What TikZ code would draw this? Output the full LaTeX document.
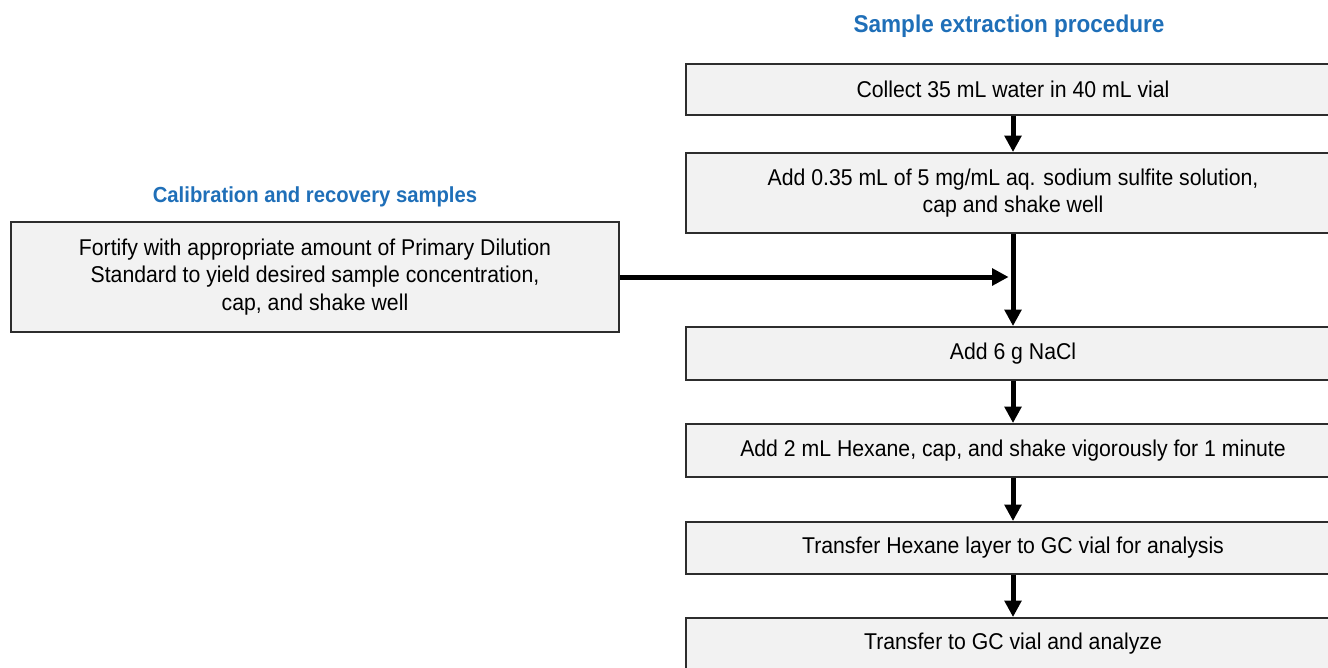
\documentclass[tikz,border=0pt]{standalone}
\usepackage{fontspec}
\setmainfont[FakeStretch=0.93]{Liberation Sans}
\usetikzlibrary{arrows.meta}
\definecolor{headblue}{RGB}{31,111,184}
\definecolor{boxfill}{RGB}{242,242,242}
\definecolor{boxline}{RGB}{45,45,45}
\tikzset{
  stepbox/.style={draw=boxline,fill=boxfill,line width=1.1pt,inner sep=0pt,
    minimum width=13.08cm,align=center,font=\fontsize{13}{15.6}\selectfont},
  head/.style={text=headblue,font=\bfseries\fontsize{13.8}{16}\selectfont},
  flow/.style={line width=2.85pt,-{Triangle[length=0.33cm,width=0.33cm]}}
}
\begin{document}
\begin{tikzpicture}[x=0.02cm,y=-0.02cm]
\useasboundingbox (0,0) rectangle (1328,667);
\node[head] (exthead) at (1009,26) {Sample extraction procedure};
\node[head,font=\bfseries\fontsize{12.4}{15}\selectfont] (calhead) at (315,197) {Calibration and recovery samples};
\node[stepbox,minimum height=1.02cm] (collect) at (1013,89.5) {Collect 35 mL water in 40 mL vial};
\node[stepbox,minimum height=1.6cm] (sulfite) at (1013,193) {Add 0.35 mL of 5 mg/mL aq. sodium sulfite solution,\\cap and shake well};
\node[stepbox,minimum height=1.06cm] (nacl) at (1013,353.5) {Add 6 g NaCl};
\node[stepbox,minimum height=1.06cm] (hexane) at (1013,450.5) {Add 2 mL Hexane, cap, and shake vigorously for 1 minute};
\node[stepbox,minimum height=1.04cm] (layer) at (1013,548) {Transfer Hexane layer to GC vial for analysis};
\node[stepbox,minimum height=1.04cm] (analyze) at (1013,644) {Transfer to GC vial and analyze};
\node[stepbox,minimum width=12.16cm,minimum height=2.2cm] (fortify) at (315,277) {Fortify with appropriate amount of Primary Dilution\\Standard to yield desired sample concentration,\\cap, and shake well};
\coordinate (join) at (fortify.east -| sulfite.south);
\draw[flow] (collect) -- (sulfite);
\draw[flow] (sulfite) -- (nacl);
\draw[flow,shorten >=2.5pt] (fortify) -- (join);
\draw[flow] (nacl) -- (hexane);
\draw[flow] (hexane) -- (layer);
\draw[flow] (layer) -- (analyze);
\end{tikzpicture}
\end{document}
